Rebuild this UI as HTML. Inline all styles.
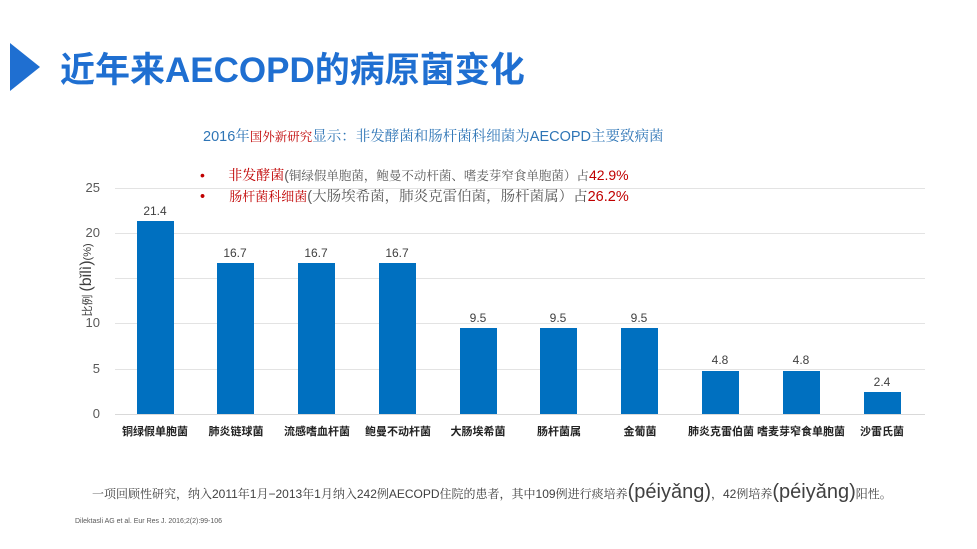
<!DOCTYPE html>
<html><head><meta charset="utf-8"><style>
body{margin:0;width:977px;height:549px;background:#fff;position:relative;overflow:hidden;font-family:"Liberation Sans","Noto Sans CJK SC",sans-serif}
.a{position:absolute;white-space:nowrap}
.g{position:absolute;left:115px;width:810px;height:1px;background:#e3e3e3}
.yl{position:absolute;width:40px;text-align:right;left:60px;font-size:13px;color:#595959}
.bar{position:absolute;width:37px;background:#0070c0}
.v{position:absolute;width:60px;text-align:center;font-size:12px;color:#404040}
.c{position:absolute;width:90px;text-align:center;font-size:11px;font-weight:bold;color:#222;top:423px}
</style></head><body>
<div class="a" style="left:10px;top:43px;width:0;height:0;border-top:24px solid transparent;border-bottom:24px solid transparent;border-left:30px solid #1f6fd1"></div>
<div class="a" style="left:60px;top:42px;font-size:35px;font-weight:bold;color:#1f6fd1;font-family:'Liberation Sans','Noto Sans CJK SC',sans-serif">近年来AECOPD的病原菌变化</div>
<div class="a" style="left:203px;top:125px;font-size:14.5px;color:#2e75b6;font-family:'Liberation Sans','Noto Serif CJK SC',serif">2016年<span style="color:#c00000;font-size:12.5px">国外新研究</span>显示：非发酵菌和肠杆菌科细菌为AECOPD主要致病菌</div>
<div class="a" style="left:200px;top:165px;font-size:14px;color:#595959;font-family:'Liberation Sans','Noto Serif CJK SC',serif"><span style="color:#c00000">•&nbsp;&nbsp;&nbsp;&nbsp;&nbsp;&nbsp;非发酵菌</span>(<span style="font-size:12.5px">铜绿假单胞菌，鲍曼不动杆菌、嗜麦芽窄食单胞菌）占</span><span style="color:#c00000">42.9%</span></div>
<div class="a" style="left:200px;top:185px;font-size:14.5px;color:#595959;font-family:'Liberation Sans','Noto Serif CJK SC',serif"><span style="color:#c00000">•&nbsp;&nbsp;&nbsp;&nbsp;&nbsp;&nbsp;<span style="font-size:13px">肠杆菌科细菌</span></span>(大肠埃希菌，肺炎克雷伯菌，肠杆菌属）占<span style="color:#c00000">26.2%</span></div>
<div class="g" style="top:188px"></div><div class="g" style="top:233px"></div><div class="g" style="top:278px"></div><div class="g" style="top:323px"></div><div class="g" style="top:369px"></div><div class="g" style="top:414px;background:#d9d9d9"></div>
<div class="yl" style="top:180px">25</div><div class="yl" style="top:225px">20</div><div class="yl" style="top:315px">10</div><div class="yl" style="top:361px">5</div><div class="yl" style="top:406px">0</div>
<div class="a" style="left:87px;top:280px;transform:translate(-50%,-50%) rotate(-90deg);font-size:11px;color:#404040">比例 <span style="font-size:16px">(bǐlì)</span>(%)</div>
<div class="bar" style="left:137px;top:221px;height:193px"></div><div class="v" style="left:125px;top:204px">21.4</div>
<div class="bar" style="left:217px;top:263px;height:151px"></div><div class="v" style="left:205px;top:246px">16.7</div>
<div class="bar" style="left:298px;top:263px;height:151px"></div><div class="v" style="left:286px;top:246px">16.7</div>
<div class="bar" style="left:379px;top:263px;height:151px"></div><div class="v" style="left:367px;top:246px">16.7</div>
<div class="bar" style="left:460px;top:328px;height:86px"></div><div class="v" style="left:448px;top:311px">9.5</div>
<div class="bar" style="left:540px;top:328px;height:86px"></div><div class="v" style="left:528px;top:311px">9.5</div>
<div class="bar" style="left:621px;top:328px;height:86px"></div><div class="v" style="left:609px;top:311px">9.5</div>
<div class="bar" style="left:702px;top:371px;height:43px"></div><div class="v" style="left:690px;top:353px">4.8</div>
<div class="bar" style="left:783px;top:371px;height:43px"></div><div class="v" style="left:771px;top:353px">4.8</div>
<div class="bar" style="left:864px;top:392px;height:22px"></div><div class="v" style="left:852px;top:375px">2.4</div>
<div class="c" style="left:110px">铜绿假单胞菌</div><div class="c" style="left:191px">肺炎链球菌</div><div class="c" style="left:272px">流感嗜血杆菌</div><div class="c" style="left:353px">鲍曼不动杆菌</div><div class="c" style="left:433px">大肠埃希菌</div><div class="c" style="left:514px">肠杆菌属</div><div class="c" style="left:595px">金葡菌</div><div class="c" style="left:676px">肺炎克雷伯菌</div><div class="c" style="left:756px">嗜麦芽窄食单胞菌</div><div class="c" style="left:837px">沙雷氏菌</div>
<div class="a" style="left:92px;top:481px;font-size:12px;color:#404040;font-family:'Liberation Sans','Noto Serif CJK SC',serif">一项回顾性研究，纳入2011年1月−2013年1月纳入242例AECOPD住院的患者，其中109例进行痰培养<span style="font-size:20px;font-family:'Liberation Sans',sans-serif">(péiyǎng)</span>，42例培养<span style="font-size:20px;font-family:'Liberation Sans',sans-serif">(péiyǎng)</span>阳性。</div>
<div class="a" style="left:75px;top:518px;font-size:7px;color:#595959">Dilektasli AG et al. Eur Res J. 2016;2(2):99-106</div>
</body></html>
